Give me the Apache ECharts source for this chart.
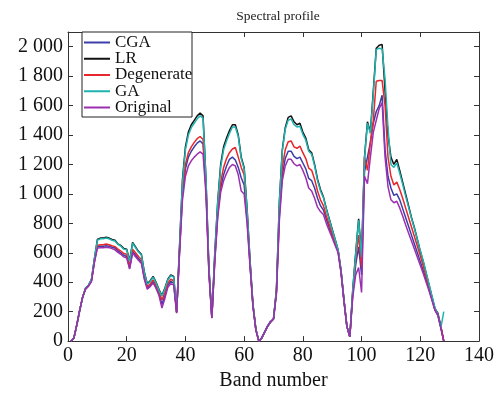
<!DOCTYPE html>
<html><head><meta charset="utf-8">
<script src="https://cdn.jsdelivr.net/npm/echarts@6/dist/echarts.min.js"></script>
<style>html,body{margin:0;padding:0;background:#fff}#c{width:501px;height:396px}</style>
</head><body><div id="c"></div>
<script>
const seriesNames = ['CGA','LR','Degenerate','GA','Original'];
const seriesColors = ['#3c3ea8','#111111','#e8262d','#1fb3b0','#9c2fb0'];
const xTicks = [0,20,40,60,80,100,120,140];
const yTicks = [0,200,400,600,800,1000,1200,1400,1600,1800,2000];

const LR = [0,20,110,210,300,360,380,420,560,690,
700,700,705,700,690,685,660,650,630,625,
545,670,640,610,590,470,390,410,440,400,
350,310,360,420,450,440,200,650,1100,1320,
1420,1470,1500,1530,1550,1530,1100,500,160,600,
950,1200,1320,1380,1430,1470,1470,1400,1250,1180,
900,550,250,80,0,20,60,100,130,150,
350,950,1300,1450,1520,1530,1490,1470,1480,1420,
1380,1300,1280,1200,1100,1030,980,900,830,760,
690,620,480,280,100,30,350,600,830,580,
1250,1490,1420,1700,1990,2010,2015,1700,1400,1250,
1200,1235,1160,1080,1000,920,840,770,690,610,
540,460,380,300,220,190,100,0];

const GA = [0,20,110,210,300,360,380,420,560,685,
695,695,700,695,685,680,658,645,625,620,
540,665,635,605,585,465,385,405,435,395,
345,305,355,415,445,435,200,640,1080,1300,
1400,1450,1480,1510,1530,1515,1100,500,160,590,
940,1180,1300,1360,1410,1455,1455,1390,1240,1170,
890,545,250,80,0,20,60,100,130,150,
345,940,1290,1440,1500,1510,1470,1455,1460,1405,
1365,1290,1270,1190,1090,1020,975,895,825,755,
690,620,480,280,100,30,345,590,820,570,
1240,1480,1410,1680,1980,1990,1985,1780,1450,1200,
1180,1210,1140,1065,985,910,835,765,690,615,
545,465,385,305,225,180,90,200];

const Degenerate = [0,20,110,210,300,355,375,410,545,650,
655,655,660,655,648,642,625,612,595,590,
510,625,600,575,555,440,370,388,415,378,
330,280,330,395,420,410,195,620,1020,1200,
1280,1320,1350,1375,1390,1370,1050,480,160,560,
880,1080,1180,1240,1280,1305,1315,1250,1180,1130,
860,530,245,78,0,20,60,100,130,150,
335,880,1180,1300,1355,1360,1320,1310,1325,1280,
1240,1175,1160,1100,1020,960,920,850,790,730,
670,615,475,280,100,30,330,560,720,500,
1250,1160,1350,1500,1765,1770,1770,1600,1250,1120,
1060,1080,1030,970,905,840,775,710,645,580,
510,440,365,290,215,180,100,0];

const CGA = [0,20,110,210,300,355,375,410,540,640,
645,645,648,645,638,632,615,600,583,575,
495,610,585,560,540,430,360,378,405,368,
320,250,310,380,405,395,195,610,1000,1170,
1250,1290,1320,1345,1360,1340,1030,470,160,550,
860,1040,1130,1190,1235,1250,1230,1180,1110,1060,
830,520,240,75,0,25,65,105,135,150,
330,850,1130,1240,1290,1290,1255,1240,1250,1210,
1170,1105,1090,1040,970,920,890,830,770,715,
660,610,470,275,100,30,320,520,640,450,
1150,1250,1350,1480,1560,1600,1670,1300,1120,1040,
990,1000,960,900,840,780,720,660,600,540,
480,415,350,280,210,175,90,0];

const Original = [0,20,110,210,300,355,375,405,535,630,
635,635,638,635,628,620,603,590,572,565,
490,598,573,550,528,420,352,370,395,358,
310,225,290,365,390,380,190,600,960,1120,
1190,1225,1250,1270,1285,1270,1000,460,155,540,
840,1010,1090,1140,1180,1200,1190,1130,1020,1000,
800,510,235,75,0,20,60,100,130,150,
320,820,1090,1190,1235,1235,1205,1190,1200,1160,
1110,1040,1020,970,910,880,860,800,750,700,
650,600,465,270,100,30,300,450,500,330,
1120,1070,1250,1420,1500,1580,1620,1250,1050,960,
940,950,905,850,790,735,680,625,570,515,
460,400,340,275,210,175,90,0];

const bands = LR.map((_, i) => i + 1);
const values = {CGA, LR, Degenerate, GA, Original};

const font = 'Liberation Serif';
const chart = echarts.init(document.getElementById('c'), null, {renderer: 'canvas'});
const axisLine = {show: true, onZero: false, lineStyle: {color: '#333', width: 1}};
const tick = {show: true, inside: true, length: 5, lineStyle: {color: '#333'}};
const fmtY = v => v >= 1000 ? String(v).replace(/(\d)(\d{3})$/, '$1 $2') : String(v);

chart.setOption({
  animation: false,
  backgroundColor: '#fff',
  title: {text: 'Spectral profile', left: 273, top: 4, textAlign: 'center',
    textStyle: {fontFamily: font, fontSize: 13.5, fontWeight: 'normal', color: '#222'}},
  grid: {left: 68, right: 22, top: 32, bottom: 49, containLabel: false},
  xAxis: [
    {type: 'value', min: xTicks[0], max: xTicks[xTicks.length-1], interval: 20, position: 'bottom',
     name: 'Band number', nameLocation: 'middle', nameGap: 28,
     nameTextStyle: {fontFamily: font, fontSize: 20, color: '#111'},
     axisLine, axisTick: tick, splitLine: {show: false},
     axisLabel: {fontFamily: font, fontSize: 20, color: '#111', margin: 5}},
    {type: 'value', min: xTicks[0], max: xTicks[xTicks.length-1], interval: 20, position: 'top',
     axisLine, axisTick: tick, splitLine: {show: false}, axisLabel: {show: false}}
  ],
  yAxis: [
    {type: 'value', min: yTicks[0], max: 2100, interval: 200, position: 'left',
     axisLine, axisTick: tick, splitLine: {show: false},
     axisLabel: {fontFamily: font, fontSize: 20, color: '#111', margin: 5, showMaxLabel: false,
       formatter: fmtY}},
    {type: 'value', min: yTicks[0], max: 2100, interval: 200, position: 'right',
     axisLine, axisTick: tick, splitLine: {show: false}, axisLabel: {show: false}}
  ],
  legend: {
    data: seriesNames, orient: 'vertical', left: 84, top: 34, padding: 0,
    itemWidth: 26, itemHeight: 2, itemGap: -0.75, icon: 'rect', z: 6,
    textStyle: {fontFamily: font, fontSize: 17, color: '#111', lineHeight: 16}
  },
  graphic: [{type: 'rect', z: 5, shape: {x: 82, y: 32, width: 110, height: 85},
    style: {fill: '#fff', stroke: '#222', lineWidth: 1}}],
  series: seriesNames.map((n, k) => ({
    name: n, type: 'line', showSymbol: false, symbol: 'none',
    data: bands.map((b, i) => [b, values[n][i]]),
    lineStyle: {color: seriesColors[k], width: 1.5},
    itemStyle: {color: seriesColors[k]},
    z: 2 + k
  }))
});
</script></body></html>
